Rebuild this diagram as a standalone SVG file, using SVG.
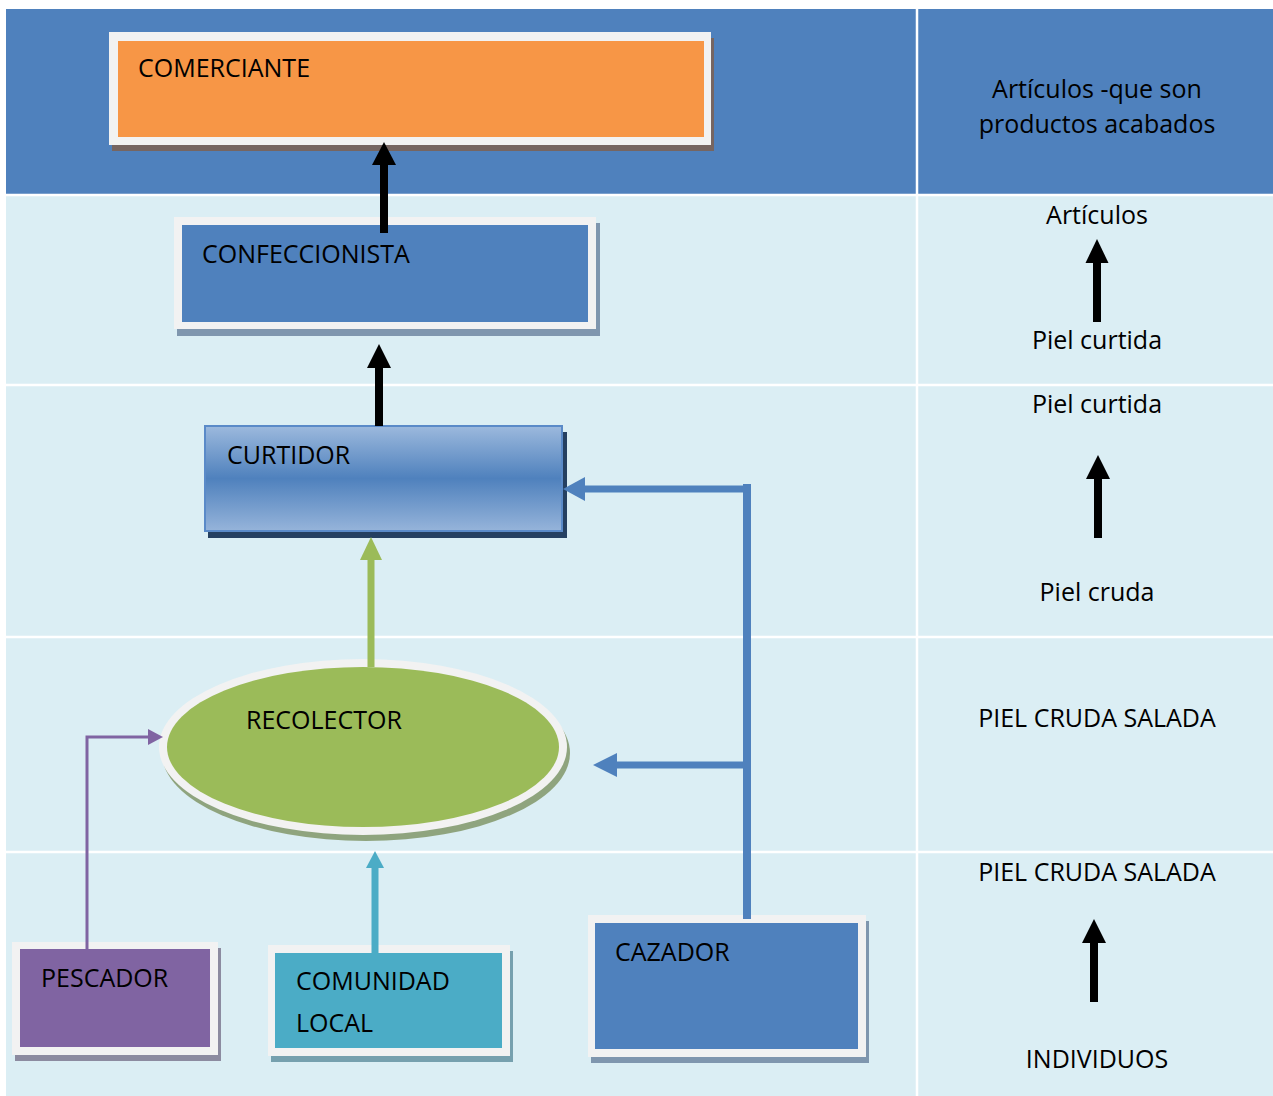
<svg xmlns="http://www.w3.org/2000/svg" width="1273" height="1096" viewBox="0 0 1273 1096">
<defs>
<style>
text{font-family:"Open Sans","Noto Sans","Liberation Sans",sans-serif;font-size:25px;fill:#000}
.rc{text-anchor:middle}
.frame{fill:#F2F2F2}
.grid{stroke:#FFFFFF;stroke-width:2.5}
</style>
<linearGradient id="gCurt" x1="0" y1="0" x2="0" y2="1">
<stop offset="0" stop-color="#9CB9DD"/>
<stop offset="0.5" stop-color="#4F81BD"/>
<stop offset="1" stop-color="#96B4DA"/>
</linearGradient>
</defs>
<rect x="0" y="0" width="1273" height="1096" fill="#FFFFFF"/>
<g id="table">
<rect x="6" y="9" width="1267" height="1087" fill="#DBEEF4"/>
<rect x="6" y="9" width="1267" height="186" fill="#4F81BD"/>
<line class="grid" x1="6" y1="195" x2="1273" y2="195"/>
<line class="grid" x1="6" y1="385" x2="1273" y2="385"/>
<line class="grid" x1="6" y1="637" x2="1273" y2="637"/>
<line class="grid" x1="6" y1="852" x2="1273" y2="852"/>
<line class="grid" x1="917" y1="9" x2="917" y2="1096"/>
</g>
<g id="comerciante">
<rect x="112" y="38" width="602" height="113" fill="#766561"/>
<rect class="frame" x="109" y="32" width="602" height="113"/>
<rect x="118" y="41" width="586" height="96" fill="#F79646"/>
<text x="138" y="77">COMERCIANTE</text>
</g>
<g id="confeccionista">
<rect x="177" y="223" width="423" height="113" fill="#7F96AE"/>
<rect class="frame" x="174" y="217" width="422" height="112"/>
<rect x="182" y="225" width="406" height="97" fill="#4F81BD"/>
<text x="202" y="263">CONFECCIONISTA</text>
</g>
<g id="curtidor">
<rect x="208" y="432" width="359" height="106" fill="#254061"/>
<rect x="205" y="426" width="357" height="105" fill="url(#gCurt)" stroke="#5A8AC8" stroke-width="2"/>
<text x="227" y="464">CURTIDOR</text>
</g>
<g id="recolector">
<ellipse cx="366" cy="753" rx="204" ry="88" fill="#8FA47E"/>
<ellipse cx="363" cy="747" rx="204" ry="88" fill="#F2F2F2"/>
<ellipse cx="363" cy="747" rx="196" ry="80" fill="#9BBB59"/>
<text x="246" y="729">RECOLECTOR</text>
</g>
<g id="pescador">
<rect x="15" y="948" width="206" height="113" fill="#8C8BA0"/>
<rect class="frame" x="12" y="942" width="206" height="113"/>
<rect x="20" y="949" width="190" height="98" fill="#8064A2"/>
<text x="41" y="987">PESCADOR</text>
</g>
<g id="comunidad">
<rect x="271" y="951" width="242" height="111" fill="#76A0AE"/>
<rect class="frame" x="268" y="945" width="242" height="111"/>
<rect x="275" y="953" width="227" height="95" fill="#4BACC6"/>
<text x="296" y="990">COMUNIDAD</text>
<text x="296" y="1032">LOCAL</text>
</g>
<g id="cazador">
<rect x="591" y="921" width="278" height="142" fill="#7F96AE"/>
<rect class="frame" x="588" y="915" width="278" height="142"/>
<rect x="595" y="923" width="263" height="126" fill="#4F81BD"/>
<text x="615" y="961">CAZADOR</text>
</g>
<g id="connectors">
<line x1="384" y1="233" x2="384" y2="164" stroke="#000" stroke-width="8"/>
<polygon points="372,165 396,165 384,142" fill="#000"/>
<line x1="379" y1="426" x2="379" y2="367" stroke="#000" stroke-width="8"/>
<polygon points="367,368 391,368 379,344" fill="#000"/>
<line x1="371" y1="667" x2="371" y2="559" stroke="#9BBB59" stroke-width="7"/>
<polygon points="360,560 382,560 371,537" fill="#9BBB59"/>
<line x1="747" y1="919" x2="747" y2="484" stroke="#4F81BD" stroke-width="8"/>
<line x1="751" y1="489" x2="584" y2="489" stroke="#4F81BD" stroke-width="7"/>
<polygon points="585,477 585,501 563,489" fill="#4F81BD"/>
<line x1="747" y1="765" x2="616" y2="765" stroke="#4F81BD" stroke-width="7"/>
<polygon points="617,753 617,777 593,765" fill="#4F81BD"/>
<polyline points="87,949 87,737 149,737" fill="none" stroke="#8064A2" stroke-width="3"/>
<polygon points="148,729 148,745 163,737" fill="#8064A2"/>
<line x1="375" y1="953" x2="375" y2="867" stroke="#4BACC6" stroke-width="7"/>
<polygon points="366,868 384,868 375,851" fill="#4BACC6"/>
</g>
<g id="side-labels">
<text class="rc" x="1097" y="98">Artículos -que son</text>
<text class="rc" x="1097" y="133">productos acabados</text>
<text class="rc" x="1097" y="224">Artículos</text>
<line x1="1097" y1="322" x2="1097" y2="262" stroke="#000" stroke-width="8"/>
<polygon points="1085.5,263 1108.5,263 1097,239" fill="#000"/>
<text class="rc" x="1097" y="349">Piel curtida</text>
<text class="rc" x="1097" y="413">Piel curtida</text>
<line x1="1098" y1="538" x2="1098" y2="478" stroke="#000" stroke-width="8"/>
<polygon points="1086,479 1110,479 1098,455" fill="#000"/>
<text class="rc" x="1097" y="601">Piel cruda</text>
<text class="rc" x="1097" y="727">PIEL CRUDA SALADA</text>
<text class="rc" x="1097" y="881">PIEL CRUDA SALADA</text>
<line x1="1094" y1="1002" x2="1094" y2="942" stroke="#000" stroke-width="8"/>
<polygon points="1082,943 1106,943 1094,919" fill="#000"/>
<text class="rc" x="1097" y="1068">INDIVIDUOS</text>
</g>
</svg>
